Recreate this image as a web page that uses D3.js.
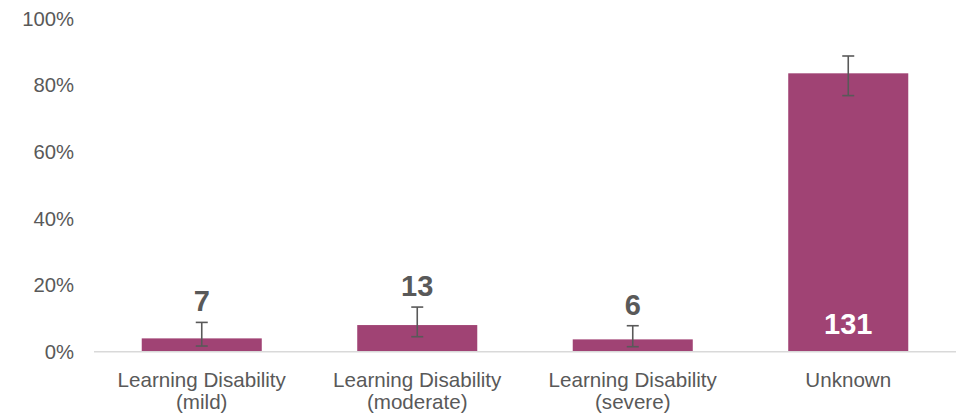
<!DOCTYPE html>
<html>
<head>
<meta charset="utf-8">
<script src="https://cdn.jsdelivr.net/npm/d3@7"></script>
<style>
  html, body { margin: 0; padding: 0; background: #fff; }
  svg { display: block; font-family: "Liberation Sans", Arial, sans-serif; }
</style>
</head>
<body>
<svg id="chart" width="962" height="416"></svg>
<script>
// Share of cases by learning disability status, with 95% intervals
const categories = [
  ["Learning Disability", "(mild)"],
  ["Learning Disability", "(moderate)"],
  ["Learning Disability", "(severe)"],
  ["Unknown"]
];
const percents = [4.0, 8.0, 3.7, 83.6];
const lowerCI = [1.7, 4.5, 1.5, 76.9];
const upperCI = [8.8, 13.4, 7.8, 88.8];
const counts = [7, 13, 6, 131];
const yTicks = [0, 20, 40, 60, 80, 100];

const svg = d3.select("#chart");
const textColor = "#595959";
const barColor = "#A04374";

const x = d3.scaleBand()
  .domain(d3.range(categories.length))
  .range([94, 956])
  .paddingInner(0.443)
  .paddingOuter(0.2215);

const y = d3.scaleLinear().domain([0, 100]).range([351.7, 18.7]);

// y-axis labels (no axis line, no gridlines)
const yAxis = d3.axisLeft(y)
  .tickValues(yTicks)
  .tickFormat(d => d + "%")
  .tickSize(0)
  .tickPadding(0);
const gy = svg.append("g").attr("transform", "translate(74,0)").call(yAxis);
gy.select(".domain").remove();
gy.selectAll("text")
  .attr("fill", textColor)
  .style("font-size", "20.3px")
  .style("font-family", "'Liberation Sans', Arial, sans-serif");

// bars
svg.append("g").selectAll("rect")
  .data(percents)
  .join("rect")
  .attr("x", (d, i) => x(i))
  .attr("width", x.bandwidth())
  .attr("y", d => y(d))
  .attr("height", d => y(0) - y(d))
  .attr("fill", barColor);

// baseline
svg.append("line")
  .attr("x1", 94).attr("x2", 956)
  .attr("y1", y(0)).attr("y2", y(0))
  .attr("stroke", "#d9d9d9")
  .attr("stroke-width", 1.5);

// error bars
const capHalf = 6;
const eb = svg.append("g").attr("stroke", "#595959").attr("stroke-width", 1.6);
percents.forEach((p, i) => {
  const cx = x(i) + x.bandwidth() / 2;
  eb.append("line").attr("x1", cx).attr("x2", cx)
    .attr("y1", y(lowerCI[i])).attr("y2", y(upperCI[i]));
  eb.append("line").attr("x1", cx - capHalf).attr("x2", cx + capHalf)
    .attr("y1", y(upperCI[i])).attr("y2", y(upperCI[i]));
  eb.append("line").attr("x1", cx - capHalf).attr("x2", cx + capHalf)
    .attr("y1", y(lowerCI[i])).attr("y2", y(lowerCI[i]));
});

// count labels: above the interval for small bars, inside the bar for the large one
svg.append("g").selectAll("text")
  .data(counts)
  .join("text")
  .attr("x", (d, i) => x(i) + x.bandwidth() / 2)
  .attr("y", (d, i) => percents[i] > 50 ? y(0) - 17.4 : y(upperCI[i]) - 11)
  .attr("text-anchor", "middle")
  .attr("fill", (d, i) => percents[i] > 50 ? "#ffffff" : textColor)
  .style("font-size", "29px")
  .style("font-weight", "bold")
  .text(d => d);

// category labels, one text element per line
const xl = svg.append("g");
categories.forEach((lines, i) => {
  lines.forEach((ln, j) => {
    xl.append("text")
      .attr("x", x(i) + x.bandwidth() / 2)
      .attr("y", 387 + j * 21.5)
      .attr("text-anchor", "middle")
      .attr("fill", textColor)
      .style("font-size", "20.6px")
      .text(ln);
  });
});
</script>
</body>
</html>
